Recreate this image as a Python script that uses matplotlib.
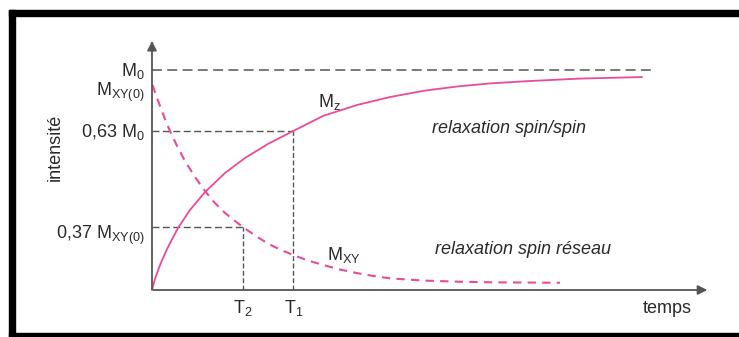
import matplotlib
matplotlib.use("Agg")
import matplotlib.pyplot as plt
from matplotlib.patches import Rectangle

plt.rcParams['font.family'] = ['Liberation Sans', 'DejaVu Sans']
plt.rcParams['mathtext.fontset'] = 'custom'
plt.rcParams['mathtext.rm'] = 'Liberation Sans'
plt.rcParams['mathtext.it'] = 'Liberation Sans:italic'

# curves (time in units of T1, intensity in units of M0)
t_mz = [0, 0.021, 0.057, 0.106, 0.184, 0.269, 0.375, 0.517, 0.658, 0.821, 1.0,
        1.21, 1.451, 1.684, 1.918, 2.158, 2.392, 2.675, 3.029, 3.468]
i_mz = [0, 0.05, 0.114, 0.186, 0.282, 0.364, 0.445, 0.532, 0.6, 0.664, 0.723,
        0.791, 0.841, 0.877, 0.905, 0.925, 0.939, 0.95, 0.961, 0.968]
t_mxy = [0.004, 0.028, 0.057, 0.092, 0.127, 0.177, 0.234, 0.304, 0.375, 0.446,
         0.517, 0.587, 0.644, 0.729, 0.821, 0.906, 1.0, 1.104, 1.21, 1.331,
         1.451, 1.564, 1.684, 1.918, 2.158, 2.392, 2.64, 2.887]
i_mxy = [0.932, 0.886, 0.836, 0.777, 0.723, 0.655, 0.586, 0.514, 0.45, 0.395,
         0.35, 0.314, 0.286, 0.248, 0.211, 0.184, 0.159, 0.134, 0.114, 0.093,
         0.077, 0.064, 0.053, 0.043, 0.038, 0.035, 0.034, 0.033]

m0 = 1.0
mxy0 = 0.932
lvl_63 = 0.723
lvl_37 = 0.285
t1 = 1.0
t2 = 0.646
t_end_m0 = 3.57

y_labels = [r'$\mathregular{M_0}$', r'$\mathregular{M_{XY(0)}}$',
            r'$\mathregular{0{,}63\ M_0}$', r'$\mathregular{0{,}37\ M_{XY(0)}}$']
y_label_base = [0.973, 0.882, 0.695, 0.232]

pink = '#ea4a9a'
grey = '#555555'
txt = '#2a2a2a'
fs = 13

fig = plt.figure(figsize=(7.39, 3.37), dpi=100)
ax = fig.add_axes([0, 0, 1, 1])
ax.set_xlim(-1.0757, 4.1543)
ax.set_ylim(-0.2136, 1.3182)
ax.axis('off')

# axes with arrows
ax.annotate('', xy=(0, 1.145), xytext=(0, -0.01),
            arrowprops=dict(arrowstyle='-|>', color=grey, lw=1.3, mutation_scale=14))
ax.annotate('', xy=(3.95, 0), xytext=(-0.01, 0),
            arrowprops=dict(arrowstyle='-|>', color=grey, lw=1.3, mutation_scale=14))

# reference lines
ax.plot([0, t_end_m0], [m0, m0], color=grey, lw=1.1, dashes=(6.5, 3.5))
ax.plot([0, t1], [lvl_63, lvl_63], color=grey, lw=1.0, dashes=(5, 2.5))
ax.plot([0, t2], [lvl_37, lvl_37], color=grey, lw=1.0, dashes=(5, 2.5))
ax.plot([t1, t1], [0, lvl_63], color=grey, lw=1.0, dashes=(3.5, 1.8))
ax.plot([t2, t2], [0, lvl_37], color=grey, lw=1.0, dashes=(3.5, 1.8))

# curves
ax.plot(t_mz, i_mz, color=pink, lw=1.3, solid_capstyle='round')
ax.plot(t_mxy, i_mxy, color=pink, lw=1.5, dashes=(4, 3))

for lab, yv in zip(y_labels, y_label_base):
    ax.text(-0.05, yv, lab, ha='right', va='baseline', fontsize=fs, color=txt)

ax.text(t2, -0.1045, r'$\mathregular{T_2}$', ha='center', va='baseline', fontsize=fs, color=txt)
ax.text(t1, -0.1045, r'$\mathregular{T_1}$', ha='center', va='baseline', fontsize=fs, color=txt)
ax.text(3.65, -0.105, 'temps', ha='center', va='baseline', fontsize=fs, color=txt)
ax.text(-0.686, 0.65, 'intensité', rotation=90, ha='center', va='center',
        fontsize=fs, color=txt)
ax.text(1.175, 0.832, r'$\mathregular{M_z}$', ha='left', va='baseline', fontsize=fs, color=txt)
ax.text(1.24, 0.136, r'$\mathregular{M_{XY}}$', ha='left', va='baseline', fontsize=fs, color=txt)
ax.text(1.98, 0.714, 'relaxation spin/spin', ha='left', va='baseline',
        fontsize=fs, style='italic', color=txt)
ax.text(2.0, 0.164, 'relaxation spin réseau', ha='left', va='baseline',
        fontsize=fs, style='italic', color=txt)

# black frame
fig.patches.append(Rectangle((9 / 739, 0), 6 / 739, 327 / 337, transform=fig.transFigure,
                             color='black', zorder=5))
fig.patches.append(Rectangle((9 / 739, 321 / 337), 730 / 739, 6 / 337,
                             transform=fig.transFigure, color='black', zorder=5))
fig.patches.append(Rectangle((9 / 739, 0), 730 / 739, 4 / 337, transform=fig.transFigure,
                             color='black', zorder=5))

fig.savefig('out.png', dpi=100)
